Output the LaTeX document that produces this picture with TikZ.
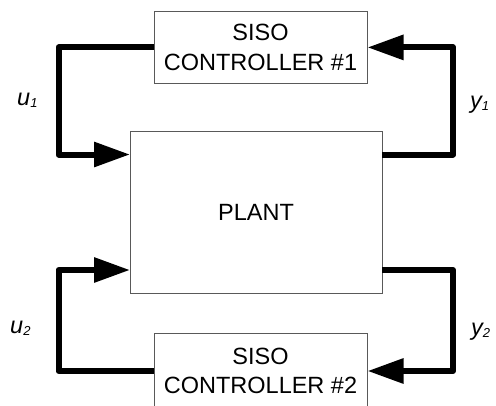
\documentclass[tikz,border=0pt]{standalone}
\usepackage{fontspec}
\setmainfont{Liberation Sans}
\usetikzlibrary{arrows.meta}

% small lowered index for the signal names
\newcommand{\sigidx}[1]{\raisebox{-0.2ex}{\fontsize{13}{13}\selectfont #1}}

\tikzset{
  block/.style={draw=black!65, line width=1pt, fill=white, inner sep=0pt,
    align=center, font=\fontsize{23.5}{29.5}\selectfont},
  signal/.style={line width=6pt, line join=round,
    -{Triangle[length=36pt,width=24pt]}},
  siglabel/.style={inner sep=0pt, anchor=base west,
    font=\fontsize{23.5}{28}\selectfont\itshape},
}

\begin{document}
\begin{tikzpicture}[x=1pt, y=-1pt]
  \clip (0,0) rectangle (496,405);
  \fill[white] (0,0) rectangle (496,405);

  % blocks
  \node[block, minimum width=213pt, minimum height=71.3pt] (ctrlA) at (260.5,47.4)
    {SISO\\CONTROLLER \#1};
  \node[block, minimum width=252pt, minimum height=162pt] (plant) at (256,212)
    {PLANT};
  \node[block, minimum width=213pt, minimum height=75.4pt] (ctrlB) at (260.5,371)
    {SISO\\CONTROLLER \#2};

  % ports on the plant and the two return buses
  \coordinate (inA)  at (130,154.5);
  \coordinate (outA) at (382,154.5);
  \coordinate (inB)  at (130,270);
  \coordinate (outB) at (382,270);
  \coordinate (busL) at (58.5,0);
  \coordinate (busR) at (453,0);

  % loop 1
  \draw[signal] (ctrlA.west) -| (busL |- inA) -- (inA);
  \draw[signal] (outA) -| (busR |- ctrlA.east) -- (ctrlA.east);

  % loop 2
  \draw[signal] (ctrlB.west) -| (busL |- inB) -- (inB);
  \draw[signal] (outB) -| (busR |- ctrlB.east) -- (ctrlB.east);

  % signal names
  \node[siglabel] (u1) at (17,105) {u\sigidx{1}};
  \node[siglabel] (y1) at (470,108) {y\sigidx{1}};
  \node[siglabel] (u2) at (10,333) {u\sigidx{2}};
  \node[siglabel] (y2) at (471,335) {y\sigidx{2}};
\end{tikzpicture}
\end{document}
